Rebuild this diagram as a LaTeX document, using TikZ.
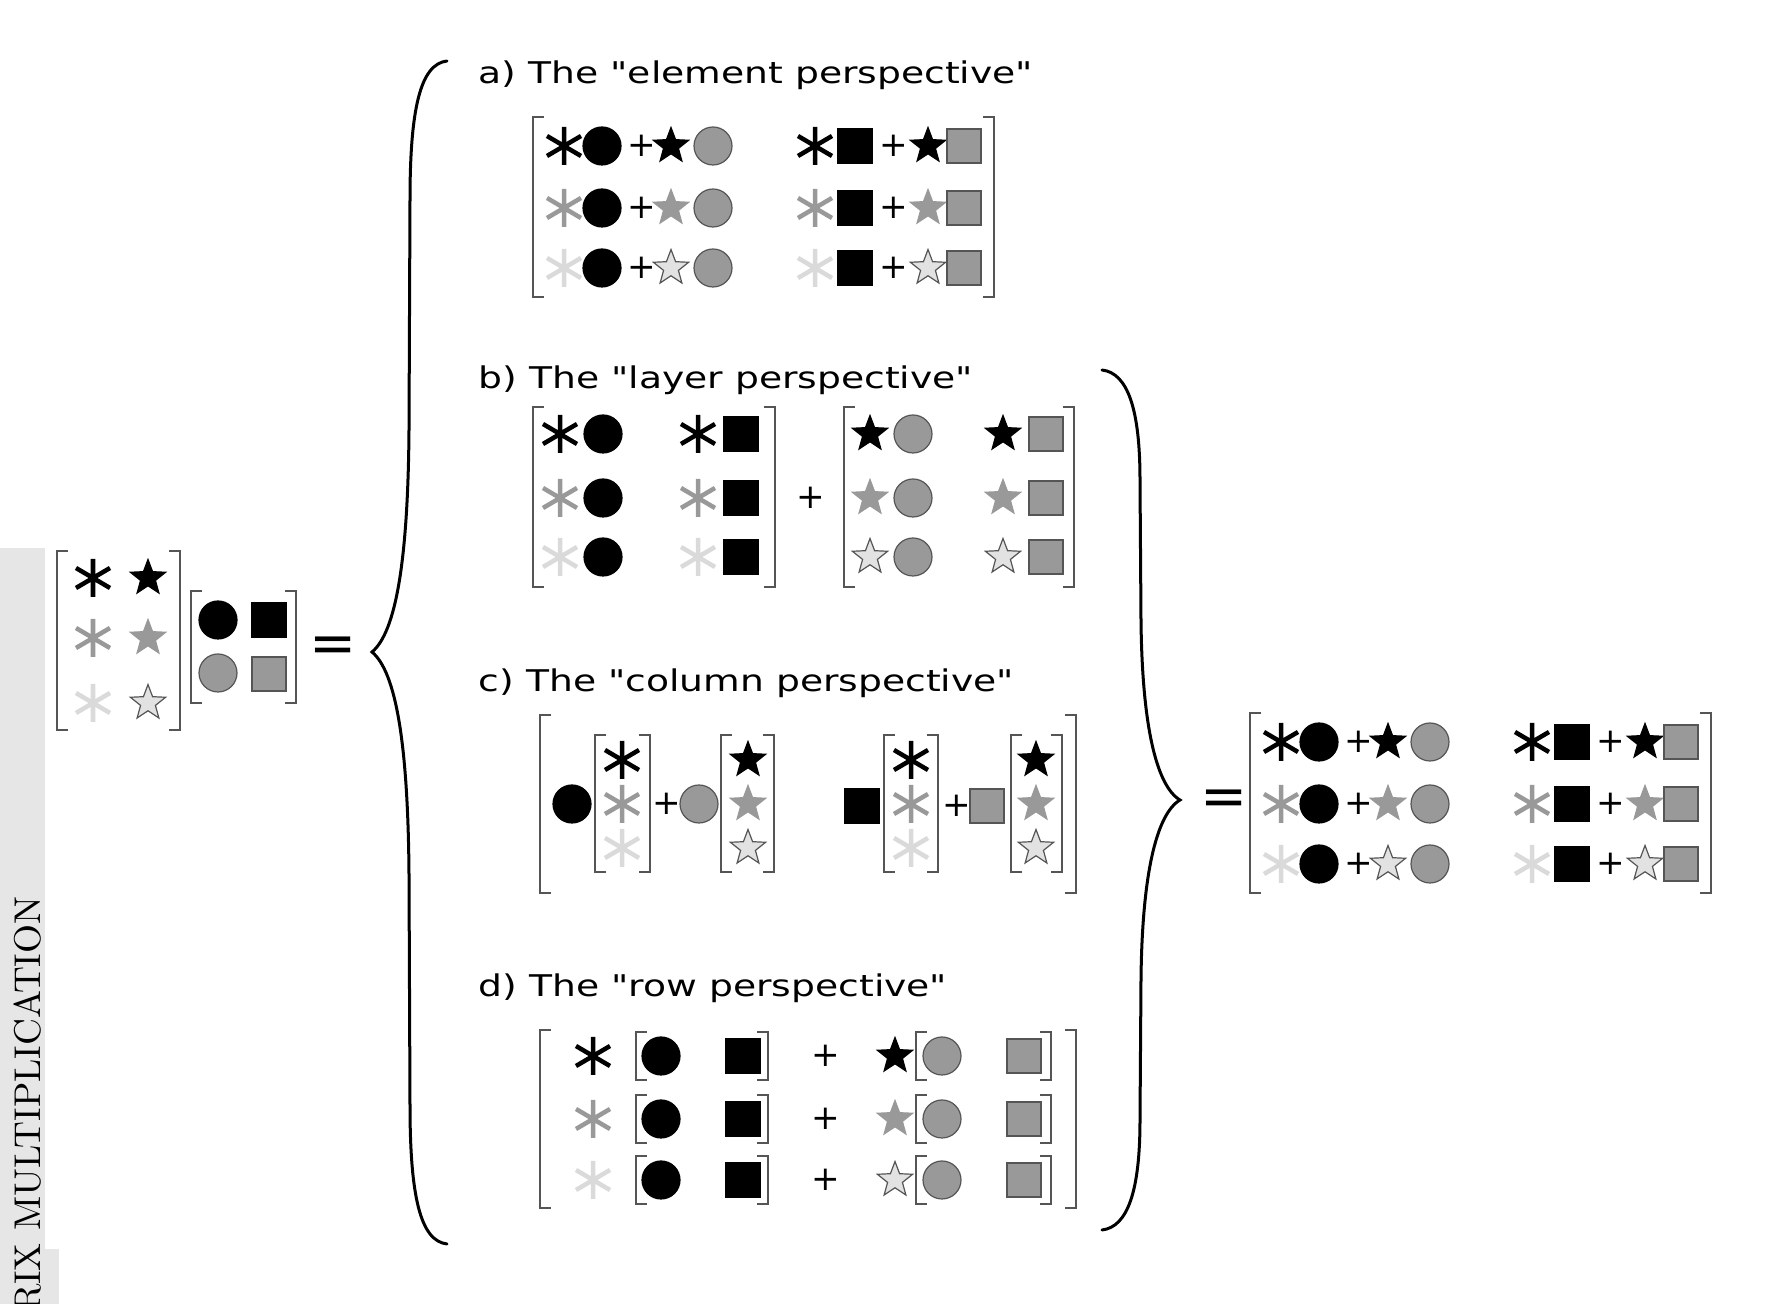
\documentclass[tikz,border=0pt]{standalone}
\usepackage{fontspec}
\newfontfamily\labelfont{DejaVu Sans}
\definecolor{midgray}{HTML}{999999}
\definecolor{paleast}{HTML}{DADADA}
\definecolor{palestar}{HTML}{E2E2E2}
\definecolor{edgegray}{HTML}{555555}
\definecolor{stripgray}{HTML}{E6E6E6}
% asterisk at (x,y) in colour #3
\newcommand{\Ast}[3]{\draw[line width=0.045cm, draw=#3, shift={(#1,#2)}] (0,-19) -- (0,19) (-17,-10) -- (17,10) (-17,10) -- (17,-10);}
% five-pointed star: x, y, fill, edge
\newcommand{\Star}[4]{\filldraw[fill=#3, draw=#4, line width=0.012cm, shift={(#1,#2)}] (-90:18.5) \foreach \a in {-18,54,126,198}{ -- ({\a-36}:7.8) -- (\a:18.5)} -- (234:7.8) -- cycle;}
% disc and square: x, y, fill, edge
\newcommand{\Dot}[4]{\filldraw[fill=#3, draw=#4, line width=0.012cm] (#1,#2) circle [radius=19];}
\newcommand{\Sq}[4]{\filldraw[fill=#3, draw=#4, line width=0.012cm, shift={(#1,#2)}] (-17,-17) rectangle (17,17);}
% pair of square brackets: left x, top y, right x, bottom y
\newcommand{\Brk}[4]{\draw[bracket] (#1+11,#2) -- (#1,#2) -- (#1,#4) -- (#1+11,#4);
  \draw[bracket] (#3-11,#2) -- (#3,#2) -- (#3,#4) -- (#3-11,#4);}
% matrix of sums, one element each
\newcommand{\ElemMatrix}[1]{%
  \Brk{533}{117}{994}{297}
  \foreach \y/\ac/\sf/\sd in {146/black/black/black, 208/midgray/midgray/midgray, 268/paleast/palestar/edgegray}{
    \Ast{564}{\y}{\ac}
    \Dot{602}{\y}{black}{black}
    \node[plus] (#1l\y) at (642,\y) {+};
    \Star{671}{\y}{\sf}{\sd}
    \Dot{713}{\y}{midgray}{edgegray}
    \Ast{815}{\y}{\ac}
    \Sq{855}{\y}{black}{black}
    \node[plus] (#1r\y) at (894,\y) {+};
    \Star{928}{\y}{\sf}{\sd}
    \Sq{964}{\y}{midgray}{edgegray}
  }}
\begin{document}
\begin{tikzpicture}[x=0.01cm, y=-0.01cm,
  bracket/.style={line width=0.02cm, draw=edgegray},
  brace/.style={line width=0.03cm, line cap=round},
  title/.style={font={\labelfont\fontsize{8.5}{10}\selectfont}, xscale=1.26, anchor=base west, inner sep=0},
  plus/.style={font={\labelfont\fontsize{9.7}{11}\selectfont}, inner sep=0},
  equal/.style={font={\labelfont\fontsize{16}{18}\selectfont}, inner sep=0}]
\clip (0,0) rectangle (1778,1304);

% Drawing page margin strip
\fill[stripgray] (0,548) rectangle (45,1304);
\fill[stripgray] (0,1249) rectangle (59,1304);
\node[rotate=90, anchor=base east, inner sep=0, font=\fontsize{10.6}{12}\selectfont] (head) at (41,896) {RIX MULTIPLICATION};

% Drawing left product
\Brk{57}{551}{180}{730}
\foreach \y/\ac/\sf/\sd in {578/black/black/black, 638/midgray/midgray/midgray, 703/paleast/palestar/edgegray}{
  \Ast{93}{\y}{\ac}
  \Star{148}{\y}{\sf}{\sd}
}
\Brk{191}{591}{296}{703}
\Dot{218}{620}{black}{black}
\Sq{269}{620}{black}{black}
\Dot{218}{673}{midgray}{edgegray}
\Sq{269}{674}{midgray}{edgegray}
\node[equal] (eqL) at (333,650) {=};

% Drawing left brace
\draw[brace] (447,61) .. controls (420,64) and (410,110) .. (410,200) -- (409,430)
  .. controls (408,560) and (396,632) .. (372,652)
  .. controls (396,672) and (408,744) .. (409,874) -- (410,1105)
  .. controls (410,1195) and (420,1241) .. (447,1244);

% Drawing panel a
\node[title] (ta) at (478,84) {a) The "element perspective"};
\ElemMatrix{pa}

% Drawing panel b
\node[title] (tb) at (478,389) {b) The "layer perspective"};
\Brk{533}{407}{775}{587}
\Brk{844}{407}{1074}{587}
\node[plus] (pb) at (811,498) {+};
\foreach \y/\ac/\sf/\sd in {434/black/black/black, 498/midgray/midgray/midgray, 557/paleast/palestar/edgegray}{
  \Ast{560}{\y}{\ac}
  \Dot{603}{\y}{black}{black}
  \Ast{698}{\y}{\ac}
  \Sq{741}{\y}{black}{black}
  \Star{870}{\y}{\sf}{\sd}
  \Dot{913}{\y}{midgray}{edgegray}
  \Star{1003}{\y}{\sf}{\sd}
  \Sq{1046}{\y}{midgray}{edgegray}
}

% Drawing panel c
\node[title] (tc) at (478,692) {c) The "column perspective"};
\Brk{540}{715}{1076}{893}
\foreach \xl/\xr in {595/650, 721/774, 884/938, 1011/1062}{\Brk{\xl}{735}{\xr}{872}}
\Dot{572}{804}{black}{black}
\node[plus] (pc1) at (667,804) {+};
\Dot{699}{804}{midgray}{edgegray}
\Sq{862}{806}{black}{black}
\node[plus] (pc2) at (957,806) {+};
\Sq{987}{806}{midgray}{edgegray}
\foreach \y/\ac/\sf/\sd in {760/black/black/black, 804/midgray/midgray/midgray, 848/paleast/palestar/edgegray}{
  \Ast{622}{\y}{\ac}
  \Star{748}{\y}{\sf}{\sd}
  \Ast{911}{\y}{\ac}
  \Star{1036}{\y}{\sf}{\sd}
}

% Drawing panel d
\node[title] (td) at (478,997) {d) The "row perspective"};
\Brk{540}{1030}{1076}{1208}
\foreach \y/\ac/\sf/\sd in {1056/black/black/black, 1119/midgray/midgray/midgray, 1180/paleast/palestar/edgegray}{
  \Ast{593}{\y}{\ac}
  \Brk{636}{\y-24}{768}{\y+24}
  \Dot{661}{\y}{black}{black}
  \Sq{743}{\y}{black}{black}
  \node[plus] (pd\y) at (826,\y) {+};
  \Star{895}{\y}{\sf}{\sd}
  \Brk{916}{\y-24}{1051}{\y+24}
  \Dot{942}{\y}{midgray}{edgegray}
  \Sq{1024}{\y}{midgray}{edgegray}
}

% Drawing right brace
\draw[brace] (1102,370) .. controls (1128,373) and (1140,410) .. (1140,480) -- (1141,620)
  .. controls (1142,720) and (1155,785) .. (1180,800)
  .. controls (1155,815) and (1142,880) .. (1141,980) -- (1140,1120)
  .. controls (1140,1190) and (1128,1227) .. (1102,1230);

% Drawing result
\node[equal] (eqR) at (1224,803) {=};
\begin{scope}[shift={(717,596)}]
  \ElemMatrix{res}
\end{scope}
\end{tikzpicture}
\end{document}
